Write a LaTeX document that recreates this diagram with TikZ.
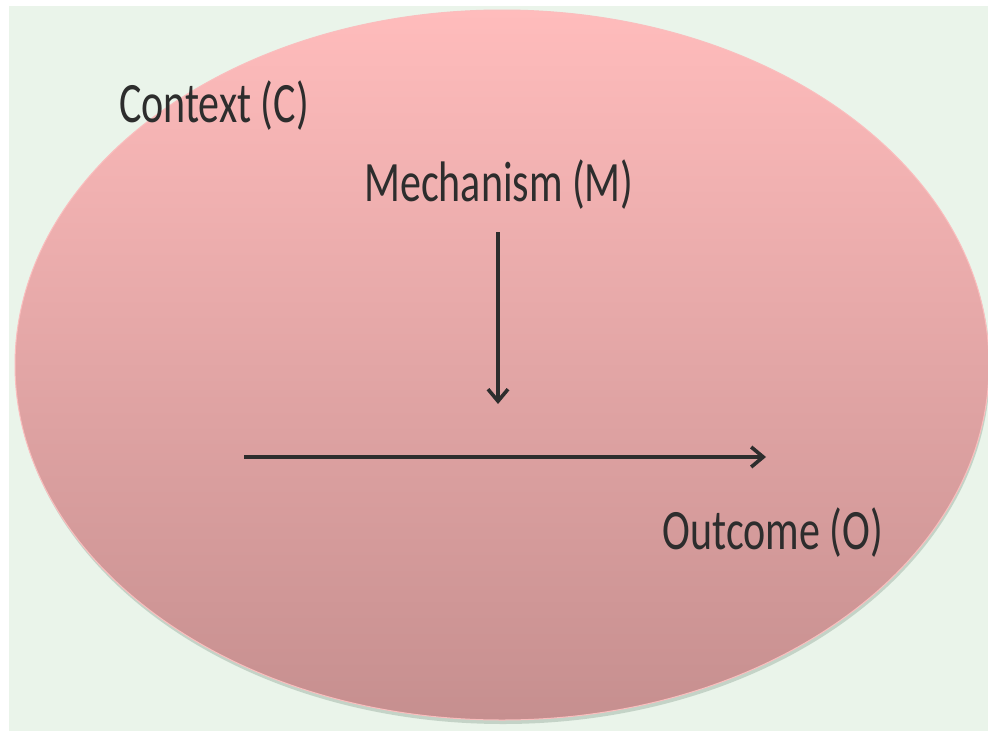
\documentclass[tikz,border=0pt]{standalone}
\usepackage{fontspec}
\setmainfont{Carlito}
\usetikzlibrary{arrows.meta}
\definecolor{bggreen}{RGB}{234,244,234}
\definecolor{pinktop}{RGB}{255,188,188}
\definecolor{pinkbot}{RGB}{198,143,143}
\definecolor{rimpink}{RGB}{250,190,190}
\definecolor{shadowc}{RGB}{160,180,165}
\definecolor{inkc}{RGB}{45,45,45}
\newcommand{\tall}[1]{\scalebox{1}[1.36]{#1}}
\tikzset{
  lbl/.style={text=inkc, font=\fontsize{42}{50}\selectfont, inner sep=0pt},
  arr/.style={draw=inkc, line width=3.8pt, -{Straight Barb[length=12pt,width=20pt,line width=3.6pt]}}
}
\begin{document}
\begin{tikzpicture}[x=1pt,y=-1pt]
\useasboundingbox (0,0) rectangle (988,731);
\fill[white] (0,0) rectangle (988,731);
\fill[bggreen] (9,6) rectangle (988,731);
% shadow
\fill[shadowc, opacity=0.5] (503,368) ellipse [x radius=487pt, y radius=356pt];
% ellipse
\shade[top color=pinktop, bottom color=pinkbot, draw=rimpink, line width=1pt] (502,365) ellipse [x radius=487pt, y radius=355pt];
\node[lbl] (ctx) at (214,106) {\tall{Context (C)}};
\node[lbl] (mech) at (499,185) {\tall{Mechanism (M)}};
\node[lbl] (out) at (773,533) {\tall{Outcome (O)}};
\coordinate (mstart) at (498,232);
\coordinate (mend) at (498,404);
\coordinate (hstart) at (244,457);
\coordinate (hend) at (766,457);
\draw[arr] (mstart) -- (mend);
\draw[arr] (hstart) -- (hend);
\end{tikzpicture}
\end{document}
